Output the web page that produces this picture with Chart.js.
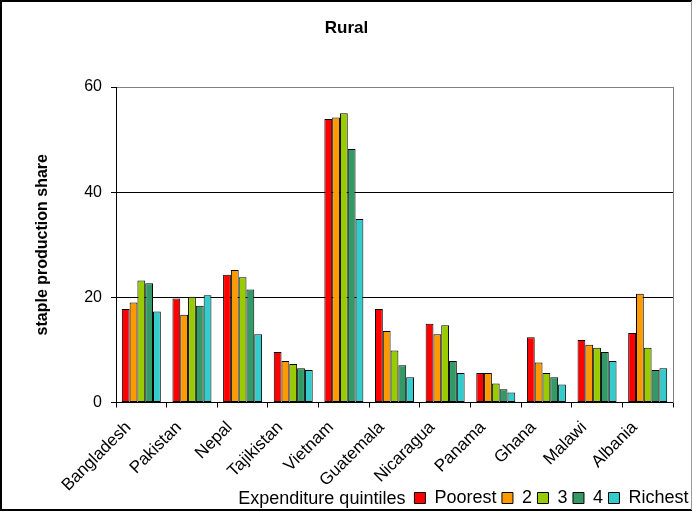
<!DOCTYPE html>
<html>
<head>
<meta charset="utf-8">
<script src="https://cdn.jsdelivr.net/npm/chart.js@4/dist/chart.umd.min.js"></script>
<style>
  html, body { margin: 0; padding: 0; background: #fff; }
  #wrap { width: 693px; height: 512px; position: relative; }
</style>
</head>
<body>
<div id="wrap"><canvas id="c" width="693" height="512"></canvas></div>
<script>
const categories = ["Bangladesh","Pakistan","Nepal","Tajikistan","Vietnam","Guatemala","Nicaragua","Panama","Ghana","Malawi","Albania"];
const poorest = [17.8, 19.8, 24.3, 9.6, 53.9, 17.8, 15.0, 5.6, 12.4, 11.9, 13.2];
const q2      = [19.0, 16.7, 25.2, 7.9, 54.2, 13.6, 13.0, 5.6, 7.6, 11.0, 20.7];
const q3      = [23.2, 20.1, 23.8, 7.3, 55.0, 9.9, 14.7, 3.6, 5.6, 10.4, 10.4];
const q4      = [22.7, 18.4, 21.5, 6.5, 48.2, 7.1, 7.9, 2.5, 4.8, 9.6, 6.2];
const richest = [17.3, 20.4, 13.0, 6.2, 34.9, 4.8, 5.6, 1.9, 3.4, 7.9, 6.5];
const seriesLabels = ["Poorest", "2", "3", "4", "Richest"];
const yTicks = [0, 20, 40, 60];
const legendTitle = "Expenditure quintiles";
const chartTitle = "Rural";
const yTitle = "staple production share";

const colors = ["#FF0000", "#FF9900", "#99CC00", "#339966", "#33CCCC"];
const seriesData = [poorest, q2, q3, q4, richest];

const FONT = "'Liberation Sans', Arial, sans-serif";
const LEGEND_DY = 9;

const decor = {
  id: 'decor',
  afterLayout(chart) {
    const lg = chart.legend;
    if (lg) {
      const dx = 1;
      lg.top += LEGEND_DY; lg.bottom += LEGEND_DY;
      lg.left += dx; lg.right += dx;
    }
    // let rotated x labels extend below the axis box (avoid clipping)
    const xs = chart.scales.x;
    if (xs) { xs.bottom = chart.height; xs.height = xs.bottom - xs.top; }
  },
  afterDraw(chart) {
    const ctx = chart.ctx;
    const lg = chart.legend;
    ctx.save();
    if (lg && lg.legendHitBoxes && lg.legendHitBoxes.length) {
      const hb = lg.legendHitBoxes[0];
      ctx.font = "18px " + FONT;
      ctx.fillStyle = "#000";
      ctx.textAlign = "right";
      ctx.textBaseline = "middle";
      ctx.fillText(legendTitle, hb.left - 9, hb.top + hb.height / 2 + 1);
    }
    // outer frame
    ctx.lineWidth = 2;
    ctx.strokeStyle = "#000";
    ctx.beginPath();
    ctx.moveTo(692, 1); ctx.lineTo(1, 1); ctx.lineTo(1, 510); ctx.lineTo(692, 510);
    ctx.stroke();
    ctx.lineWidth = 1;
    ctx.strokeStyle = "#999";
    ctx.beginPath();
    ctx.moveTo(691.5, 1); ctx.lineTo(691.5, 510);
    ctx.stroke();
    ctx.restore();
  }
};

new Chart(document.getElementById('c'), {
  type: 'bar',
  data: {
    labels: categories,
    datasets: seriesLabels.map((l, i) => ({
      label: l,
      data: seriesData[i],
      backgroundColor: colors[i],
      borderColor: "#000",
      borderWidth: 1,
      borderSkipped: false,
      barPercentage: 1.0,
      categoryPercentage: 0.77
    }))
  },
  options: {
    responsive: false,
    animation: false,
    devicePixelRatio: 1,
    layout: { padding: { left: 0, right: 0, top: 0, bottom: 4 } },
    plugins: {
      title: {
        display: true,
        text: chartTitle,
        color: "#000",
        font: { family: FONT, size: 17, weight: 'bold' },
        padding: { top: 18, bottom: 48.6 }
      },
      legend: {
        display: true,
        position: 'bottom',
        align: 'end',
        labels: {
          color: "#000",
          font: { family: FONT, size: 18 },
          boxWidth: 11,
          boxHeight: 11,
          padding: 5.5
        }
      },
      tooltip: { enabled: false }
    },
    scales: {
      x: {
        type: 'category',
        grid: { display: true, drawOnChartArea: false, drawTicks: true, tickLength: 5, color: "#000", offset: true },
        border: { display: true, color: "#000", width: 1 },
        ticks: {
          color: "#000",
          font: { family: FONT, size: 17 },
          maxRotation: 45, minRotation: 45,
          autoSkip: false,
          labelOffset: -13,
          padding: 10
        },
        afterFit(s) { s.height = 72; }
      },
      y: {
        min: 0, max: 60,
        afterBuildTicks(s) { s.ticks = yTicks.map(v => ({ value: v })); },
        grid: {
          color: (c) => (c.tick && c.tick.value === 60) ? "#808080" : (c.tick && c.tick.value === 0 ? "rgba(0,0,0,0)" : "#000"),
          tickColor: "#000",
          tickLength: 5,
          lineWidth: 1
        },
        border: { display: true, color: "#000", width: 1 },
        ticks: { color: "#000", font: { family: FONT, size: 16 }, padding: 9 },
        title: {
          display: true, text: yTitle, color: "#000",
          font: { family: FONT, size: 16, weight: 'bold' },
          padding: { top: 33, bottom: 0 }
        },
        afterFit(s) { s.width = 116; }
      },
      yR: {
        position: 'right',
        display: true,
        min: 0, max: 60,
        grid: { display: false, drawTicks: false },
        ticks: { display: false },
        border: { display: true, color: "#808080", width: 1 },
        afterFit(s) { s.width = 20; }
      }
    }
  },
  plugins: [decor]
});
</script>
</body>
</html>
